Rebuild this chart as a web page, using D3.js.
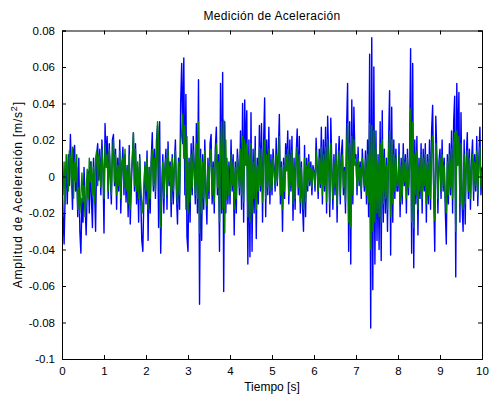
<!DOCTYPE html>
<html>
<head>
<meta charset="utf-8">
<script src="https://cdn.jsdelivr.net/npm/d3@7"></script>
<style>
  html, body { margin: 0; padding: 0; background: #ffffff; }
  svg { display: block; }
  text { font-family: "Liberation Sans", Arial, Helvetica, sans-serif; }
</style>
</head>
<body>
<svg id="chart" width="489" height="395"></svg>
<script>
// Sampling interval of the recorded signals (s)
const dt = 0.025;

// Acceleration, channel 1 (values in 1e-3 m/s^2), one row per half second
const serieAzul = [
  5, -20, -37, -10, 8, -15, 12, -5, 23, 2, -18, 14, 17, -8, 5, -22, 10, -30, -42, -12,
  -25, 5, -15, -32, -8, 3, -20, 8, -12, -28, 10, -6, -30, 12, 18, -2, 15, -10, 20, 5,
  -31, 29, 8, 22, -12, 18, 0, -15, 20, 23, -5, 15, -18, 10, -8, 20, -20, 5, 16, -10,
  12, -14, 6, -22, 17, -26, -5, 10, 24, -8, 18, -15, 5, -25, 12, -12, -35, -41, -10, 8,
  -15, 14, -35, 5, -20, 10, 24, -8, 15, -12, 20, 28, -28, 30, -42, -10, 12, -20, 5, 15,
  -18, 19, -5, 8, -22, 12, -15, 6, 20, -10, -26, 10, -18, 40, 62, 18, 65, -10, 45, -33,
  -41, 10, -25, 18, -10, 22, 5, -15, 29, -20, 53, -70, 15, -35, 12, -18, 20, -8, -26, 10,
  -12, 18, 23, -15, 8, -20, 15, 27, -10, 12, -41, 51, -20, 57, -63, 30, -20, 10, -15, 8,
  -15, 20, -8, 12, -32, 8, -20, 15, 5, -10, 25, -18, 40, -25, 42, 10, 36, -48, 20, -44,
  35, -41, 15, -20, 22, -34, 10, -15, 28, -8, 29, -25, 18, 43, -22, 20, -10, 27, -15, 12,
  -10, 15, 5, -8, 21, -5, 12, 34, -15, 8, -30, 10, -12, 18, 5, 25, -15, 20, -8, 22,
  -24, 10, -18, 12, 26, -10, 22, -20, 8, -15, -30, 17, -22, 10, -8, 12, -5, 8, -10, 6,
  3, -8, 21, 5, -12, 15, -6, 27, -15, 20, -8, 27, -20, 33, 10, -22, 32, 5, -18, 12,
  -10, 18, -25, 8, 22, -15, 12, 20, -10, 5, -20, 25, 51, -41, 30, -48, 42, -15, 38, 10,
  12, -10, 16, -5, 8, -12, 15, 2, -8, 14, -15, 20, -22, 67, -83, 76, -62, 60, -48, 25,
  -35, 12, -40, 30, -46, 36, -25, 15, -20, 10, -30, 18, 47, -43, 38, -25, 20, -12, 15, -8,
  -8, 18, -22, 10, -15, 18, -5, 12, -20, 15, -10, 8, 70, -42, 62, -50, 20, -15, 22, -32,
  10, -12, 18, -20, 15, -8, 18, -25, 12, -15, 20, -18, 25, 39, -10, -41, 33, 12, -20, 8,
  15, -12, 20, -8, 10, -18, -37, 12, -15, 18, -10, 25, -20, 30, 44, -55, 51, 10, 46, -25,
  35, -15, -30, 20, -26, 10, 24, -12, 15, -18, 8, 20, -13, 12, -8, 22, -16, 10, 27, -10,
  5
];

// Acceleration, channel 2 (values in 1e-3 m/s^2)
const serieVerde = [
  3, -10, 8, -15, 12, 5, -8, 14, 10, -5, 16, -12, 8, -3, 12, -18, -6, -20, -10, 2,
  -14, -5, -22, -8, 4, -12, 10, -3, 8, -10, 5, -15, 10, 14, -5, 12, 8, -6, 15, 3,
  -12, 18, 5, 12, -8, 15, 3, -10, 10, 20, -3, 12, -10, 6, -5, 14, -12, 8, 10, -6,
  15, -8, 4, -15, 12, -18, 2, 10, 24, -5, 15, -8, 8, -12, 10, -6, -15, -20, -5, 6,
  -8, 10, -18, 5, -12, 8, 15, -5, 10, -8, 12, 30, 20, -10, -28, -5, 8, -12, 4, 10,
  -10, 15, -3, 6, -14, 10, -8, 5, 14, -6, -15, 8, -10, 18, 25, 34, 10, 28, -18, 22,
  -20, 8, -14, 12, -6, 14, 3, -10, 18, -12, 30, -31, 10, -20, 8, -12, 14, -5, -16, 6,
  -8, 12, 15, -10, 5, -14, 10, 18, -6, 8, -25, 12, 30, -18, 31, -31, 20, -12, 6, -10,
  -10, 12, -5, 8, -18, 5, -12, 10, 3, -6, 15, -10, 22, -14, 20, 6, 18, -22, 12, -25,
  18, -20, 8, -12, 14, -18, 6, -8, 16, -5, 15, -14, 10, 20, -12, 12, -6, 15, -8, 8,
  -6, 10, 3, -5, 12, -3, 8, 22, -10, 5, -18, 6, -8, 12, 3, 15, -10, 12, -5, 14,
  -15, 6, -12, 8, 16, -6, 12, -14, 5, -10, -18, 10, -14, 6, -5, 8, -3, 5, -6, 4,
  2, -5, 14, 3, -8, 10, -4, 16, -10, 12, -5, 16, -14, 20, 6, -15, 18, 3, -12, 8,
  -6, 12, -16, 5, 14, -10, 8, 12, -6, 3, -14, 15, 29, -25, 18, -28, 22, -10, 20, 6,
  8, -6, 10, -3, 5, -8, 10, 1, -5, 9, -10, 12, -14, 29, -40, 28, -30, 25, -25, 15,
  -20, 8, -22, 18, -25, 20, -15, 10, -12, 6, -18, 12, 25, -22, 20, -15, 12, -8, 10, -5,
  -5, 12, -14, 6, -10, 12, -3, 8, -12, 10, -6, 5, 37, -25, 30, -28, 12, -10, 14, -18,
  6, -8, 12, -12, 10, -5, 12, -15, 8, -10, 12, -12, 16, 22, -6, -24, 18, 8, -12, 5,
  10, -8, 12, -5, 6, -12, -20, 8, -10, 12, -6, 15, -12, 18, 24, -30, 25, 6, 22, -15,
  18, -10, -18, 12, -15, 6, 14, -8, 10, -12, 5, 12, -8, 8, -5, 14, -10, 6, 16, -6,
  3
];

// Axis ticks and labels
const xTicks = [0, 1, 2, 3, 4, 5, 6, 7, 8, 9, 10];
const yTicks = [-0.1, -0.08, -0.06, -0.04, -0.02, 0, 0.02, 0.04, 0.06, 0.08];
const yTickLabels = ["-0.1", "-0.08", "-0.06", "-0.04", "-0.02", "0", "0.02", "0.04", "0.06", "0.08"];

const titulo = "Medición de Aceleración";
const etiquetaX = "Tiempo [s]";
const etiquetaY = "Amplitud de Aceleración [m/s";

const svg = d3.select("#chart");
const margin = { left: 62, right: 7, top: 30.5, bottom: 36 };
const W = 489, H = 395;
const x0 = margin.left, x1 = W - margin.right;
const y0 = margin.top, y1 = H - margin.bottom;

const x = d3.scaleLinear().domain([0, 10]).range([x0, x1]);
const y = d3.scaleLinear().domain([-0.1, 0.08]).range([y1, y0]);

// Plot area background
svg.append("rect").attr("x", x0).attr("y", y0)
  .attr("width", x1 - x0).attr("height", y1 - y0).attr("fill", "#ffffff");

// Clip the traces to the axes box
svg.append("clipPath").attr("id", "clip")
  .append("rect").attr("x", x0).attr("y", y0)
  .attr("width", x1 - x0).attr("height", y1 - y0);

const linea = d3.line()
  .x((d, i) => x(i * dt))
  .y(d => y(d / 1000));

const trazas = svg.append("g").attr("clip-path", "url(#clip)");
trazas.append("path").datum(serieAzul)
  .attr("d", linea).attr("fill", "none")
  .attr("stroke", "#0000ff").attr("stroke-width", 1.4).attr("stroke-linejoin", "round");
trazas.append("path").datum(serieVerde)
  .attr("d", linea).attr("fill", "none")
  .attr("stroke", "#008000").attr("stroke-width", 1.4).attr("stroke-linejoin", "round");

// Axes: ticks point inward on all four sides
const fontSize = 12;
const axB = d3.axisBottom(x).tickValues(xTicks).tickSize(-4).tickPadding(8).tickFormat(d3.format("d"));
const axT = d3.axisTop(x).tickValues(xTicks).tickSize(-4).tickFormat("");
const axL = d3.axisLeft(y).tickValues(yTicks).tickSize(-4).tickPadding(7)
  .tickFormat((d, i) => yTickLabels[i]);
const axR = d3.axisRight(y).tickValues(yTicks).tickSize(-4).tickFormat("");

function estilo(g) {
  g.select(".domain").attr("stroke", "#000000").attr("stroke-width", 1);
  g.selectAll(".tick line").attr("stroke", "#000000").attr("stroke-width", 1);
  g.selectAll(".tick text").attr("fill", "#000000")
    .style("font-size", "11.5px")
    .style("font-family", '"Liberation Sans", Arial, sans-serif');
}

svg.append("g").attr("transform", `translate(0,${y1})`).call(axB).call(estilo);
svg.append("g").attr("transform", `translate(0,${y0})`).call(axT).call(estilo);
svg.append("g").attr("transform", `translate(${x0},0)`).call(axL).call(estilo);
svg.append("g").attr("transform", `translate(${x1},0)`).call(axR).call(estilo);

// Title and axis labels
svg.append("text").attr("x", (x0 + x1) / 2).attr("y", 20)
  .attr("text-anchor", "middle").style("font-size", fontSize + "px")
  .style("letter-spacing", "0.3px").text(titulo);

svg.append("text").attr("x", (x0 + x1) / 2).attr("y", 391)
  .attr("text-anchor", "middle").style("font-size", fontSize + "px").text(etiquetaX);

const yl = svg.append("text")
  .attr("transform", `translate(22,${(y0 + y1) / 2}) rotate(-90)`)
  .attr("text-anchor", "middle").style("font-size", fontSize + "px")
  .style("letter-spacing", "0.8px");
yl.append("tspan").text(etiquetaY);
yl.append("tspan").attr("dy", -5).style("font-size", "9px").text("2");
yl.append("tspan").attr("dy", 5).text("]");
</script>
</body>
</html>
